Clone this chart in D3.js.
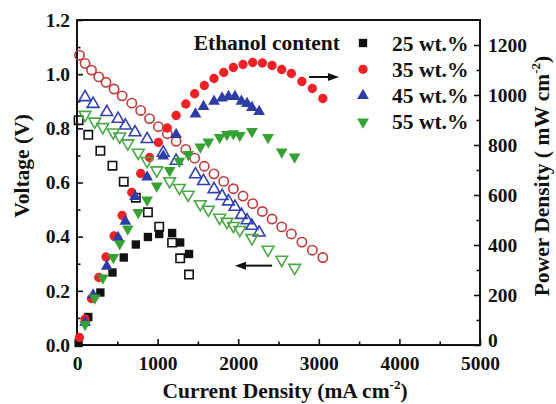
<!DOCTYPE html>
<html>
<head>
<meta charset="utf-8">
<script src="https://cdn.jsdelivr.net/npm/d3@7"></script>
<style>
  body { margin: 0; background: #fff; }
  svg { display: block; }
</style>
</head>
<body>
<div id="chart-container"></div>
<script>
// current density (mA cm-2), voltage (V) and power density (mW cm-2) per series
const current25 = [20, 140, 290, 440, 580, 730, 880, 1020, 1180, 1280, 1390]
const voltage25 = [0.83, 0.776, 0.717, 0.662, 0.603, 0.544, 0.49, 0.437, 0.378, 0.32, 0.26]
const power25 = [8, 112, 210, 290, 350, 402, 432, 444, 448, 410, 364]

const current35 = [30, 100, 180, 270, 360, 460, 560, 680, 790, 900, 1010, 1120, 1230, 1350, 1460, 1580, 1700, 1820, 1940, 2060, 2180, 2300, 2420, 2540, 2660, 2790, 2920, 3050]
const voltage35 = [1.07, 1.04, 1.015, 0.99, 0.97, 0.945, 0.92, 0.893, 0.866, 0.836, 0.806, 0.78, 0.752, 0.722, 0.69, 0.66, 0.632, 0.604, 0.577, 0.55, 0.522, 0.493, 0.465, 0.436, 0.41, 0.38, 0.35, 0.323]
const power35 = [30, 104, 186, 270, 352, 436, 518, 610, 686, 750, 810, 868, 918, 964, 1005, 1038, 1066, 1090, 1110, 1122, 1130, 1128, 1118, 1102, 1086, 1054, 1026, 986]

const current45 = [100, 200, 370, 510, 600, 720, 870, 1070, 1230, 1470, 1570, 1700, 1800, 1880, 1960, 2040, 2110, 2170, 2260]
const voltage45 = [0.915, 0.89, 0.86, 0.835, 0.81, 0.785, 0.76, 0.71, 0.68, 0.63, 0.605, 0.575, 0.55, 0.53, 0.51, 0.48, 0.46, 0.44, 0.415]
const power45 = [90, 200, 315, 430, 495, 594, 672, 756, 842, 924, 954, 975, 988, 994, 994, 975, 966, 950, 934]

const current55 = [100, 220, 320, 450, 530, 630, 760, 870, 990, 1150, 1270, 1380, 1530, 1630, 1770, 1860, 1940, 2020, 2170, 2370, 2540, 2700]
const voltage55 = [0.85, 0.825, 0.805, 0.785, 0.77, 0.745, 0.71, 0.68, 0.645, 0.605, 0.58, 0.555, 0.52, 0.5, 0.47, 0.455, 0.44, 0.425, 0.395, 0.352, 0.315, 0.285]
const power55 = [82, 188, 268, 350, 405, 464, 530, 580, 636, 698, 735, 762, 792, 812, 830, 842, 845, 838, 854, 830, 772, 752]

const seriesNames = ['25 wt.%', '35 wt.%', '45 wt.%', '55 wt.%']
const xTicks = [0, 1000, 2000, 3000, 4000, 5000]
const yLeftTicks = [0, 0.2, 0.4, 0.6, 0.8, 1.0, 1.2]
const yRightTicks = [0, 200, 400, 600, 800, 1000, 1200]

// Options:
const width = 556
const height = 404
const marginLeft = 77
const marginRight = 76
const marginTop = 20
const marginBottom = 59
const fontFamily = '"Liberation Serif", "Times New Roman", serif'
const tickFont = 19.5
const titleFont = 21.5

const series = [
  { name: seriesNames[0], current: current25, voltage: voltage25, power: power25, symbol: d3.symbolSquare, size: 70, fill: '#111', open: '#111', rotate: 0 },
  { name: seriesNames[1], current: current35, voltage: voltage35, power: power35, symbol: d3.symbolCircle, size: 68, fill: '#ee2226', open: '#c43a3c', rotate: 0 },
  { name: seriesNames[2], current: current45, voltage: voltage45, power: power45, symbol: d3.symbolTriangle, size: 60, fill: '#2e3da6', open: '#3442b0', rotate: 0 },
  { name: seriesNames[3], current: current55, voltage: voltage55, power: power55, symbol: d3.symbolTriangle, size: 60, fill: '#37a234', open: '#4aa847', rotate: 180 },
]

const svg = d3
  .select('#chart-container')
  .append('svg')
  .attr('width', width)
  .attr('height', height)
  .attr('viewBox', `0 0 ${width} ${height}`)
  .style('font-family', fontFamily)

const x = d3.scaleLinear().domain([0, 5000]).range([marginLeft, width - marginRight])
const yV = d3.scaleLinear().domain([0, 1.2]).range([height - marginBottom, marginTop])
const yP = d3.scaleLinear().domain([0, 1300]).range([height - marginBottom, marginTop])

const plotBottom = height - marginBottom
const plotRight = width - marginRight

// axes (ticks point inwards)
const styleAxis = g => {
  g.select('.domain').remove()
  g.selectAll('line').attr('stroke', '#111').attr('stroke-width', 1.6)
  g.selectAll('text')
    .attr('font-family', fontFamily)
    .attr('font-size', tickFont)
    .attr('font-weight', 'bold')
    .attr('fill', '#111')
}

svg.append('g')
  .attr('transform', `translate(0, ${plotBottom})`)
  .call(d3.axisBottom(x).tickValues(xTicks).tickFormat(d3.format('d')).tickSize(-6).tickPadding(11))
  .call(styleAxis)
svg.append('g')
  .attr('transform', `translate(0, ${plotBottom})`)
  .call(d3.axisBottom(x).tickValues(d3.range(500, 5000, 1000)).tickFormat('').tickSize(-3.5))
  .call(styleAxis)

svg.append('g')
  .attr('transform', `translate(${marginLeft}, 0)`)
  .call(d3.axisLeft(yV).tickValues(yLeftTicks).tickFormat(d3.format('.1f')).tickSize(-6).tickPadding(7))
  .call(styleAxis)
svg.append('g')
  .attr('transform', `translate(${marginLeft}, 0)`)
  .call(d3.axisLeft(yV).tickValues(d3.range(0.1, 1.2, 0.2)).tickFormat('').tickSize(-3.5))
  .call(styleAxis)

svg.append('g')
  .attr('transform', `translate(${plotRight}, 0)`)
  .call(d3.axisRight(yP).tickValues(yRightTicks).tickFormat(d3.format('d')).tickSize(-6).tickPadding(8))
  .call(styleAxis)
  .call(g => g.selectAll('.tick text').filter(d => d === 0).attr('dy', '0.1em'))
svg.append('g')
  .attr('transform', `translate(${plotRight}, 0)`)
  .call(d3.axisRight(yP).tickValues(d3.range(100, 1300, 200)).tickFormat('').tickSize(-3.5))
  .call(styleAxis)

// frame
svg.append('rect')
  .attr('x', marginLeft)
  .attr('y', marginTop)
  .attr('width', plotRight - marginLeft)
  .attr('height', plotBottom - marginTop)
  .attr('fill', 'none')
  .attr('stroke', '#111')
  .attr('stroke-width', 2)

// markers: open = voltage (left axis), filled = power (right axis)
const markers = svg.append('g')

series.forEach(s => {
  const pts = s.current.map((c, i) => ({ c, v: s.voltage[i], p: s.power[i] }))
  const shape = d3.symbol().type(s.symbol).size(s.size)

  markers.append('g')
    .selectAll('path')
    .data(pts)
    .join('path')
    .attr('d', shape)
    .attr('transform', d => `translate(${x(d.c)}, ${yV(d.v)}) rotate(${s.rotate})`)
    .attr('fill', 'none')
    .attr('stroke', s.open)
    .attr('stroke-width', 1.6)

  markers.append('g')
    .selectAll('path')
    .data(pts)
    .join('path')
    .attr('d', shape)
    .attr('transform', d => `translate(${x(d.c)}, ${yP(d.p)}) rotate(${s.rotate})`)
    .attr('fill', s.fill)
})

// arrows pointing to the axes
const arrow = (x1, x2, y) => {
  const dir = Math.sign(x2 - x1)
  svg.append('line')
    .attr('x1', x1).attr('x2', x2 - dir * 8)
    .attr('y1', y).attr('y2', y)
    .attr('stroke', '#111').attr('stroke-width', 2)
  svg.append('path')
    .attr('d', `M${x2},${y} L${x2 - dir * 11},${y - 4} L${x2 - dir * 11},${y + 4} Z`)
    .attr('fill', '#111')
}
arrow(x(2880), x(3250), yP(1072))
arrow(x(2420), x(1960), yV(0.293))

// legend
const legend = svg.append('g').attr('font-weight', 'bold').attr('font-size', titleFont).attr('fill', '#111')
legend.append('text')
  .attr('x', 340).attr('y', 42)
  .attr('dy', '0.35em')
  .attr('text-anchor', 'end')
  .text('Ethanol content')

series.forEach((s, i) => {
  const ly = 43 + i * 26.3
  legend.append('path')
    .attr('d', d3.symbol().type(s.symbol).size(s.size)())
    .attr('transform', `translate(363, ${ly}) rotate(${s.rotate})`)
    .attr('fill', s.fill)
  legend.append('text')
    .attr('x', 392).attr('y', ly)
    .attr('dy', '0.35em')
    .text(s.name)
})

// axis titles
const title = (g, main, tail) => {
  g.append('tspan').text(main)
  g.append('tspan').attr('font-size', 13).attr('dy', -9).text('-2')
  g.append('tspan').attr('dy', 9).text(tail)
}

svg.append('text')
  .attr('x', 285).attr('y', 398)
  .attr('text-anchor', 'middle')
  .attr('font-size', titleFont).attr('font-weight', 'bold').attr('fill', '#111')
  .call(g => title(g, 'Current Density (mA cm', ')'))

svg.append('text')
  .attr('transform', `translate(29, 166) rotate(-90)`)
  .attr('text-anchor', 'middle')
  .attr('font-size', titleFont).attr('font-weight', 'bold').attr('fill', '#111')
  .text('Voltage (V)')

svg.append('text')
  .attr('transform', `translate(549, 176) rotate(-90)`)
  .attr('text-anchor', 'middle')
  .attr('font-size', titleFont).attr('font-weight', 'bold').attr('fill', '#111')
  .call(g => title(g, 'Power Density ( mW cm', ')'))
</script>
</body>
</html>
